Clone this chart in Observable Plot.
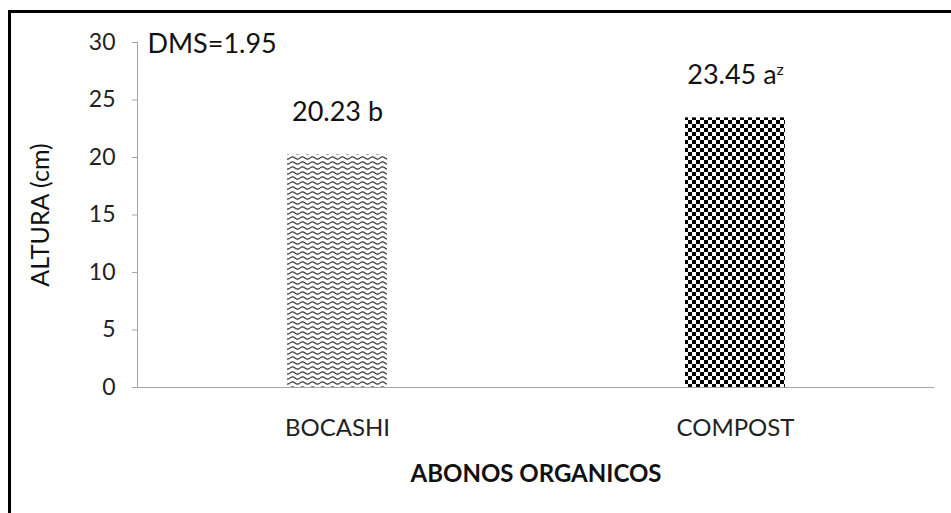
<!DOCTYPE html>
<html><head><meta charset="utf-8">
<script src="https://cdn.jsdelivr.net/npm/d3@7"></script>
<script src="https://cdn.jsdelivr.net/npm/@observablehq/plot@0.6"></script>
<style>
body{margin:0;background:#fff;}
#wrap{position:relative;width:951px;height:513px;overflow:hidden;font-family:Lato, sans-serif;}
#border{position:absolute;left:8px;top:10px;right:-10px;bottom:-10px;border-left:3px solid #000;border-top:3px solid #000;}
#chart{position:absolute;left:0;top:0;}
</style></head><body>
<div id="wrap"><div id="border"></div><div id="chart"></div></div>
<script>
const categories = ["BOCASHI", "COMPOST"];
const values = [20.23, 23.45];
const valueLabels = ["20.23 b", "23.45 a"];
const superscripts = ["", "z"];
const patternIds = ["wave", "checker"];
const yTicks = [0, 5, 10, 15, 20, 25, 30];
const annotation = "DMS=1.95";
const xTitle = "ABONOS ORGANICOS";
const yTitle = "ALTURA (cm)";

const data = categories.map((c, i) => ({c, v: values[i], label: valueLabels[i], sup: superscripts[i], fill: `url(#${patternIds[i]})`}));
const grey = "#a6a6a6";

const plot = Plot.plot({
  width: 951, height: 513,
  marginTop: 42, marginBottom: 126, marginLeft: 137, marginRight: 17,
  style: {fontFamily: "Lato, sans-serif", background: "transparent", overflow: "visible", color: "#222"},
  x: {domain: categories, paddingInner: 0.75, paddingOuter: 0.375, label: null, axis: null},
  y: {domain: [0, 30], label: null, axis: null},
  color: {type: "identity"},
  marks: [
    Plot.axisY(yTicks, {tickSize: 5, stroke: grey, text: null}),
    Plot.axisY(yTicks, {tickSize: 0, tickPadding: 22, fontSize: 23, fill: "#222"}),
    Plot.frame({anchor: "left", stroke: grey}),
    Plot.barY(data, {x: "c", y: "v", fill: "fill"}),
    Plot.ruleY([0], {stroke: grey}),
    Plot.axisX({tickSize: 0, tickPadding: 0, dy: 41, lineAnchor: "middle", fontSize: 24, fill: "#222"}),
    Plot.text(data, {x: "c", y: "v", text: "label", dy: -42, lineAnchor: "middle", fontSize: 27, fill: "#111"}),
    Plot.text([annotation], {frameAnchor: "top-left", dx: 10, dy: 2, lineAnchor: "middle", textAnchor: "start", fontSize: 27, fill: "#111"}),
    Plot.text([xTitle], {frameAnchor: "bottom", dy: 87, lineAnchor: "middle", fontSize: 24, fontWeight: "bold", fill: "#111"}),
    Plot.text([yTitle], {frameAnchor: "left", dx: -97, rotate: -90, textAnchor: "middle", lineAnchor: "middle", fontSize: 25, fill: "#111"})
  ]
});

const svg = d3.select(plot);
const defs = svg.insert("defs", ":first-child");
const w = defs.append("pattern").attr("id", "wave").attr("patternUnits", "userSpaceOnUse").attr("width", 10).attr("height", 5);
w.append("rect").attr("width", 10).attr("height", 5).attr("fill", "#fff");
w.append("path").attr("d", "M0,3 Q2.5,0.6 5,3 T10,3").attr("fill", "none").attr("stroke", "#3a3a3a").attr("stroke-width", 1.1);
const ck = defs.append("pattern").attr("id", "checker").attr("patternUnits", "userSpaceOnUse").attr("width", 8).attr("height", 8);
ck.append("rect").attr("width", 8).attr("height", 8).attr("fill", "#fff");
ck.append("rect").attr("width", 4).attr("height", 4).attr("fill", "#000");
ck.append("rect").attr("x", 4).attr("y", 4).attr("width", 4).attr("height", 4).attr("fill", "#000");

// superscripts
svg.selectAll("text").each(function() {
  const t = d3.select(this);
  const i = valueLabels.indexOf(t.text());
  if (i >= 0 && superscripts[i]) {
    t.append("tspan").attr("baseline-shift", "super").attr("font-size", 16).text(superscripts[i]);
  }
});

document.getElementById("chart").appendChild(plot);
</script>
</body></html>
